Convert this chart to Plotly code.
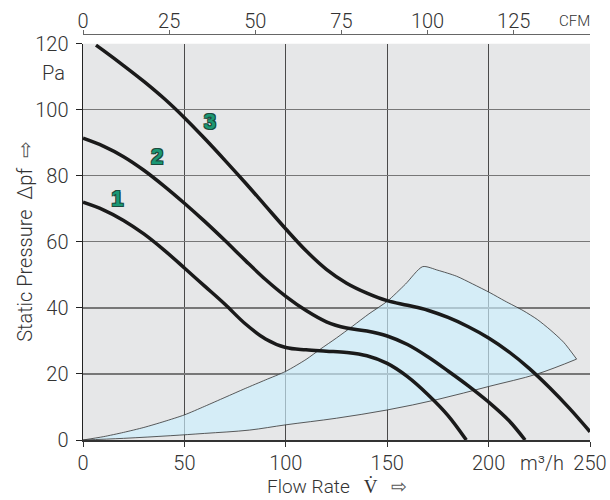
import plotly.graph_objects as go

# ---- data ----
x_ticks = [0, 50, 100, 150, 200, 250]          # m3/h
y_ticks = [0, 20, 40, 60, 80, 100, 120]        # Pa
cfm_ticks = [0, 25, 50, 75, 100, 125]          # CFM
M3H_PER_CFM = 1.699

c1_x = [0, 10, 20, 30, 40, 50, 60, 70, 80, 90, 100, 110, 120, 130, 140, 150, 160, 170, 180, 189]
c1_y = [72, 69.7, 66.5, 62.4, 57.5, 52.1, 46.6, 41.1, 35.2, 30.6, 28.0, 27.3, 26.9, 26.5, 25.5, 23.2, 19.2, 13.8, 7.4, 0]

c2_x = [0, 10, 20, 30, 40, 50, 60, 70, 80, 90, 100, 110, 120, 130, 140, 150, 160, 170, 180, 190, 200, 210, 218]
c2_y = [91.4, 89.0, 85.8, 81.7, 76.9, 71.7, 66.2, 60.4, 54.4, 48.6, 43.5, 39.2, 35.8, 33.9, 33.0, 31.5, 28.9, 25.2, 20.9, 16.4, 11.5, 5.9, 0]

c3_x = [6.4, 10, 20, 30, 40, 50, 60, 70, 80, 90, 100, 110, 120, 130, 140, 150, 160, 170, 180, 190, 200, 210, 220, 230, 240, 250]
c3_y = [119.6, 118.0, 113.4, 108.6, 103.4, 97.6, 91.3, 84.7, 77.9, 70.9, 63.9, 57.3, 51.7, 47.5, 44.5, 42.2, 40.8, 39.3, 37.1, 34.3, 30.9, 26.7, 21.7, 15.9, 9.5, 2.5]

lower_x = [0, 20, 43, 60, 82, 100, 125, 150, 175, 200, 224, 243.4]
lower_y = [0, 0.5, 1.3, 2.0, 3.0, 4.6, 6.6, 9.1, 12.3, 16.2, 20.0, 24.5]

upper_x = [0, 10, 20, 30, 40, 50, 60, 70, 80, 90, 100, 110, 117, 125, 133, 141, 150, 159, 167.5,
           175, 184.2, 192, 200.7, 208, 217, 224, 230.3, 237, 243.4]
upper_y = [0, 1.0, 2.3, 3.8, 5.6, 7.6, 10.2, 12.9, 15.6, 18.2, 20.8, 24.4, 27.5, 30.9, 34.5, 38.2, 42.0, 47.2, 52.5,
           51.4, 49.6, 47.3, 44.6, 42.1, 39.2, 36.5, 33.4, 29.6, 24.5]

labels = ["1", "2", "3"]
label_x = [16.9, 36.6, 62.6]
label_y = [72.4, 85.1, 95.9]

FONT = "Roboto"
TXT = "#333333"

fig = go.Figure()

# operating range region
fig.add_trace(go.Scatter(x=lower_x, y=lower_y, mode="lines",
                         line=dict(color="#333333", width=0.8, shape="spline", smoothing=1.0),
                         hoverinfo="skip", showlegend=False))
fig.add_trace(go.Scatter(x=upper_x, y=upper_y, mode="lines", fill="tonexty",
                         fillcolor="rgba(204,240,255,0.65)",
                         line=dict(color="#333333", width=0.8, shape="spline", smoothing=0.7),
                         hoverinfo="skip", showlegend=False))

for cx, cy in [(c1_x, c1_y), (c2_x, c2_y), (c3_x, c3_y)]:
    fig.add_trace(go.Scatter(x=cx, y=cy, mode="lines",
                             line=dict(color="#1a1a1a", width=3.5, shape="spline", smoothing=1.0),
                             hoverinfo="skip", showlegend=False))

# curve numbers
fig.add_trace(go.Scatter(x=label_x, y=label_y, mode="text", text=labels,
                         textfont=dict(family="Liberation Sans", size=22, color="#1b9873", weight="bold",
                                       shadow="-1px -1px 0 #1c4a3c, 1px -1px 0 #1c4a3c, -1px 1px 0 #1c4a3c, 1px 1px 0 #1c4a3c"),
                         hoverinfo="skip", showlegend=False))

# invisible trace for top CFM axis
fig.add_trace(go.Scatter(x=[0, 250 / M3H_PER_CFM], y=[0, 0], xaxis="x2", mode="markers",
                         marker=dict(opacity=0), hoverinfo="skip", showlegend=False))

arrow = '<span style="color:#555">\u21e8</span>'

fig.update_layout(
    width=610, height=500,
    margin=dict(l=83, r=20, t=34, b=60, autoexpand=False),
    paper_bgcolor="white",
    plot_bgcolor="#e6e7e8",
    font=dict(family=FONT, size=20, color=TXT, weight=300),
    xaxis=dict(range=[0, 250], tickvals=x_ticks, ticks="outside", ticklen=5,
               tickcolor="#333", showline=True, linecolor="#333", linewidth=2,
               showgrid=True, gridcolor="#4a4a4a", gridwidth=1, zeroline=False,
               tickfont=dict(size=20), ticklabelstandoff=-1, automargin=False),
    yaxis=dict(range=[0, 120], tickvals=y_ticks, ticks="outside", ticklen=6,
               tickcolor="#222", showline=True, linecolor="#222", linewidth=1.5,
               showgrid=True, gridcolor="#777777", gridwidth=1.2, zeroline=False,
               domain=[0, 0.976], tickfont=dict(size=20), ticklabelstandoff=3,
               automargin=False),
    xaxis2=dict(overlaying="x", side="top", anchor="free", position=1,
                range=[0, 250 / M3H_PER_CFM], tickvals=cfm_ticks, ticks="outside",
                ticklen=4, tickcolor="#666", showline=True, linecolor="#666",
                linewidth=1, showgrid=False, zeroline=False, automargin=False,
                tickfont=dict(size=20), ticklabelstandoff=-6),
    annotations=[
        dict(text="Flow Rate   V\u0307   " + arrow, xref="paper", x=0.5, xanchor="center",
             yref="paper", y=0, yanchor="bottom", yshift=-60, showarrow=False,
             font=dict(size=19)),
        dict(text="Static Pressure  \u0394pf  " + arrow, textangle=-90,
             xref="paper", x=0, xanchor="center", xshift=-58,
             yref="paper", y=0.488, yanchor="middle", showarrow=False,
             font=dict(size=20)),
        dict(text="Pa", xref="paper", x=0, xanchor="right", xshift=-16,
             yref="y", y=111, showarrow=False, font=dict(size=20)),
        dict(text="CFM", xref="paper", x=1, xanchor="right", yref="paper", y=1,
             yanchor="bottom", yshift=2, xshift=2, showarrow=False, font=dict(size=15)),
        dict(text="m\u00b3/h", xref="x", x=226.3, yref="paper", y=0, yanchor="top",
             yshift=-9, showarrow=False, font=dict(size=20)),
    ],
)

fig.write_html("out.html", config={"displayModeBar": False, "staticPlot": True},
               post_script="document.body.style.margin='0';")
